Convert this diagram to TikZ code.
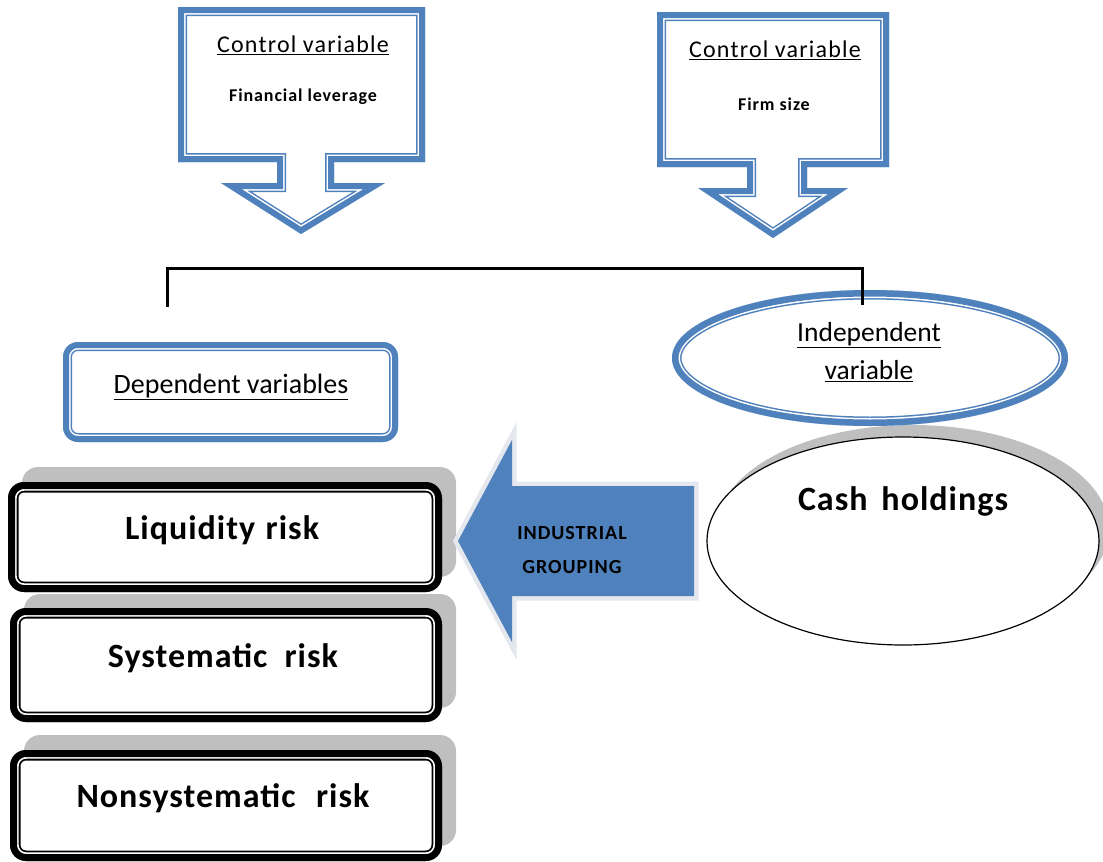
\documentclass[tikz,border=0pt]{standalone}
\usepackage{fontspec}
\setmainfont{Carlito}
\newfontfamily\wf[LetterSpace=5]{Carlito}
\newfontfamily\wfb[LetterSpace=3]{Carlito}
\definecolor{ofblue}{HTML}{4F81BD}
\definecolor{shgray}{HTML}{BFBFBF}
\definecolor{arrowedge}{HTML}{E4E8EE}
% #1 colour, #2 #3 #4 layered line widths (pt), #5 path (outer edge)
\newcommand\dblline[5]{%
  \begin{scope}
    \clip #5;
    \fill[white] #5;
    \draw[#1, line width=#2pt] #5;
    \draw[white, line width=#3pt] #5;
    \draw[#1, line width=#4pt] #5;
  \end{scope}}
\tikzset{
  lbl/.style={inner sep=0pt, text=black, align=center},
  shadowbox/.style={fill=shgray, rounded corners=16pt},
  connector/.style={line width=3pt, black},
  risktext/.style={lbl, font=\wfb\bfseries\fontsize{34}{40}\selectfont},
}
\begin{document}
\begin{tikzpicture}[x=1pt,y=-1pt]
\useasboundingbox (0,0) rectangle (1103,862);

% --- top callouts ---
\dblline{ofblue}{18}{15}{12}{(178,7) -- (425,7) -- (425,162) -- (334,162) -- (334,183) -- (385,183) -- (301,234) -- (221,183) -- (277,183) -- (277,162) -- (178,162) -- cycle}
\dblline{ofblue}{18}{15}{12}{(657,12) -- (889,12) -- (889,167) -- (807,167) -- (807,188) -- (848,188) -- (773,238) -- (698,188) -- (747,188) -- (747,167) -- (657,167) -- cycle}
\node[lbl, font=\wf\fontsize{24}{28}\selectfont] (cv1) at (303,45) {\underline{Control variable}};
\node[lbl, font=\wf\bfseries\fontsize{18}{21}\selectfont] (fl) at (303,97) {Financial leverage};
\node[lbl, font=\wf\fontsize{24}{28}\selectfont] (cv2) at (775,50) {\underline{Control variable}};
\node[lbl, font=\wf\bfseries\fontsize{18}{21}\selectfont] (fs) at (774,104) {Firm size};

% --- cash holdings ellipse with shadow ---
\fill[shgray] (913,529) ellipse [x radius=196, y radius=104];
\draw[black, line width=1.2pt, fill=white] (903,541) ellipse [x radius=196, y radius=104];
\node[risktext] (cash) at (903,501) {Cash\hspace{0.15em} holdings};

% --- independent variable ellipse ---
\dblline{ofblue}{19}{16}{13}{(870,358) ellipse [x radius=198, y radius=68]}
\node[lbl, font=\fontsize{27.5}{38}\selectfont] (ind) at (869,352) {\underline{Independent}\\\underline{variable}};

% --- dependent variables box ---
\dblline{ofblue}{18}{15}{12}{[rounded corners=15pt] (63,342) rectangle (398,442)}
\node[lbl, font=\fontsize{28}{32}\selectfont] (dep) at (231,387) {\underline{Dependent variables}};

% --- bracket connector ---
\coordinate (bl) at (167,307);
\coordinate (br) at (862,305);
\draw[connector] (bl) -- ++(0,-39) -| (br);

% --- risk boxes ---
\fill[shadowbox] (22,467) rectangle (456,577);
\dblline{black}{21}{17.4}{14}{[rounded corners=16pt] (8,482) rectangle (442,592)}
\node[risktext] (liq) at (222,530) {Liquidity\hspace{0.05em} risk};

\fill[shadowbox] (24,594) rectangle (456,708);
\dblline{black}{21}{17.4}{14}{[rounded corners=16pt] (10,608) rectangle (442,722)}
\node[risktext] (sys) at (223,658) {Systematic\hspace{0.25em} risk};

\fill[shadowbox] (24,735) rectangle (456,846);
\dblline{black}{21}{17.4}{14}{[rounded corners=16pt] (10,750) rectangle (442,861)}
\node[risktext] (non) at (223,798) {Nonsystematic\hspace{0.35em} risk};

% --- industrial grouping arrow ---
\draw[arrowedge, line width=9pt, line join=miter] (458,541) -- (512,440) -- (512,486) -- (694,486) -- (694,596) -- (512,596) -- (512,642) -- cycle;
\fill[ofblue] (458,541) -- (512,440) -- (512,486) -- (694,486) -- (694,596) -- (512,596) -- (512,642) -- cycle;
\node[lbl, font=\wf\bfseries\fontsize{20}{34}\selectfont] (ig) at (572,550) {INDUSTRIAL\\GROUPING};
\end{tikzpicture}
\end{document}
